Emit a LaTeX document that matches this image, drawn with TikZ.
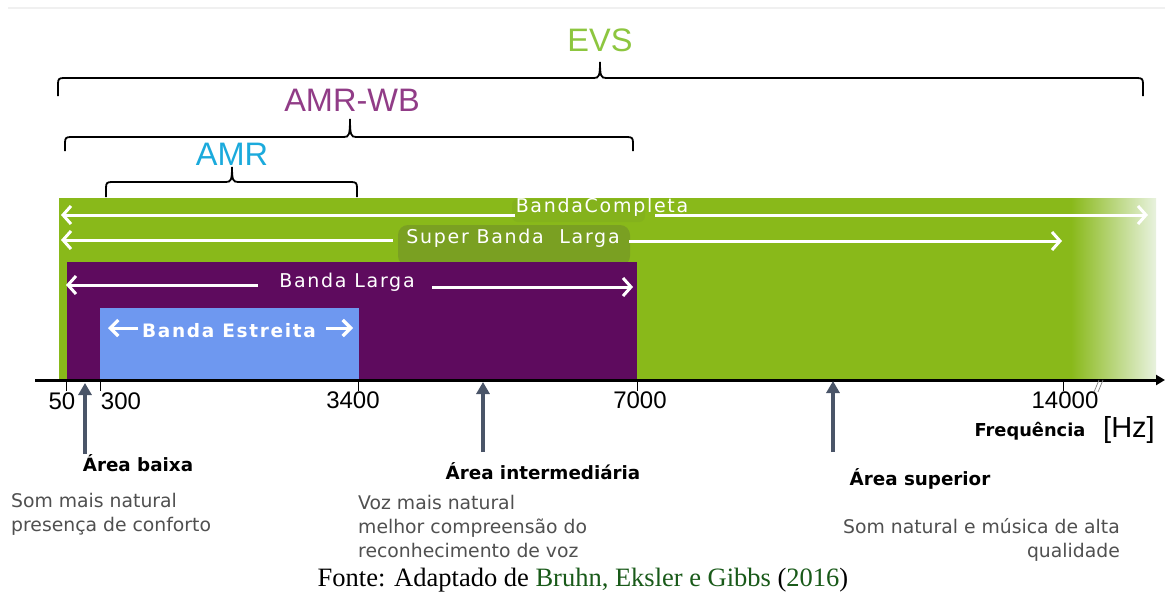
\documentclass[tikz,border=0pt]{standalone}
\usepackage{fontspec}
\setmainfont{DejaVu Sans}
\newfontfamily\arialf{Liberation Sans}
\newfontfamily\timesf{Liberation Serif}
\newfontfamily\spacedf[LetterSpace=9]{DejaVu Sans}
\usetikzlibrary{arrows.meta}
\definecolor{evsgreen}{RGB}{141,198,63}
\definecolor{wbpurple}{RGB}{145,60,135}
\definecolor{amrcyan}{RGB}{27,170,220}
\definecolor{fillgreen}{RGB}{137,185,26}
\definecolor{patchgreen}{RGB}{122,160,34}
\definecolor{fillpurple}{RGB}{94,11,94}
\definecolor{fillblue}{RGB}{110,152,240}
\definecolor{slate}{RGB}{74,85,104}
\definecolor{greytext}{RGB}{80,80,80}
\definecolor{capgreen}{RGB}{25,90,25}
\definecolor{fadeend}{RGB}{232,242,222}
\definecolor{patchgreenb}{RGB}{132,178,28}
\tikzset{
  bracepath/.style={draw=black, line width=1.8pt},
  warr/.style={draw=white, line width=3pt, -{Straight Barb[length=8pt,width=18pt,line width=3pt]}},
  sarr/.style={draw=white, line width=3pt, -{Straight Barb[length=8pt,width=16pt,line width=3.2pt]}},
  uparr/.style={draw=slate, line width=4pt, -{Triangle[length=12pt,width=13pt]}},
  codec/.style={font=\arialf\fontsize{32.5}{34}\selectfont, inner sep=0pt},
  ticklab/.style={font=\arialf\fontsize{24}{26}\selectfont, inner sep=0pt},
  bandlab/.style={font=\spacedf\fontsize{19}{21}\selectfont, text=white, inner sep=0pt},
  arealab/.style={font=\bfseries\fontsize{18.3}{20}\selectfont, text=black, inner sep=0pt},
  desc/.style={font=\fontsize{18.8}{24}\selectfont, text=greytext, inner sep=0pt},
  tickmark/.style={draw=black, line width=0.8pt}
}
\begin{document}
\begin{tikzpicture}[x=1pt,y=-1pt]
\useasboundingbox (0,0) rectangle (1165,594);
\fill[white] (0,0) rectangle (1165,594);
\draw[gray!12, line width=2pt] (8,8) -- (1165,8);

% band rectangles
\fill[fillgreen] (59,198) rectangle (1072,379);
\shade[left color=fillgreen, right color=fadeend] (1071,198) rectangle (1156,379);
\fill[patchgreen, rounded corners=10pt] (398,225) rectangle (630,266);
\fill[patchgreenb, rounded corners=6pt] (512,199) rectangle (645,222);
\fill[fillpurple] (67,262) rectangle (637,379);
\fill[fillblue] (100,308) rectangle (359,379);

% braces
\draw[bracepath] (58,96) -- (58,84) .. controls (58,79) and (59,78) .. (64,78) -- (594,78) .. controls (599,78) and (600,76) .. (600,62) .. controls (600,76) and (601,78) .. (606,78) -- (1137,78) .. controls (1142,78) and (1143,79) .. (1143,84) -- (1143,96);
\draw[bracepath] (65,151) -- (65,143) .. controls (65,138) and (66,137) .. (71,137) -- (344,137) .. controls (349,137) and (350,135) .. (350,119) .. controls (350,135) and (351,137) .. (356,137) -- (627,137) .. controls (632,137) and (633,138) .. (633,143) -- (633,151);
\draw[bracepath] (106,197) -- (106,188) .. controls (106,183) and (107,182) .. (112,182) -- (226,182) .. controls (231,182) and (232,180) .. (232,167) .. controls (232,180) and (233,182) .. (238,182) -- (351,182) .. controls (356,182) and (357,183) .. (357,188) -- (357,197);

% codec labels
\node[codec, text=evsgreen] (evs) at (600,40) {EVS};
\node[codec, text=wbpurple] (amrwb) at (352,100) {AMR-WB};
\node[codec, text=amrcyan] (amr) at (232,154) {AMR};

% band labels and arrows
\node[bandlab] (bc) at (602,207) {BandaCompleta};
\coordinate (bcL) at (61,215);
\coordinate (bcR) at (1148,215);
\draw[warr] (515,215) -- (bcL);
\draw[warr] (655,215) -- (bcR);

\node[bandlab] (sbl) at (513,238) {Super Banda\ \ Larga};
\coordinate (sblL) at (61,240);
\coordinate (sblR) at (1062,241);
\draw[warr] (393,240) -- (sblL);
\draw[warr] (629,241) -- (sblR);

\node[bandlab] (bl) at (347,282) {Banda Larga};
\coordinate (blL) at (66,285);
\coordinate (blR) at (633,287);
\draw[warr] (258,285) -- (blL);
\draw[warr] (432,287) -- (blR);

\node[bandlab, font=\spacedf\bfseries\fontsize{18.5}{20}\selectfont] (be) at (229,331) {Banda Estreita};
\coordinate (beL) at (108,328);
\coordinate (beR) at (353,328);
\draw[sarr] (138,328) -- (beL);
\draw[sarr] (326,328) -- (beR);

% axis
\coordinate (axL) at (35,380);
\coordinate (axR) at (1165,380);
\draw[line width=3pt, -{Triangle[length=9pt,width=10pt]}] (axL) -- (axR);
\foreach \x in {66,100,358,637,1063} \draw[tickmark] (\x,380) -- (\x,391);
\draw[line width=0.7pt, gray] (1094,392) -- (1099,380);
\draw[line width=0.7pt, gray] (1098,392) -- (1103,380);

\node[ticklab] (t50) at (62,401) {50};
\node[ticklab] (t300) at (121,401) {300};
\node[ticklab] (t3400) at (353,400) {3400};
\node[ticklab] (t7000) at (640,400) {7000};
\node[ticklab] (t14000) at (1065,400) {14000};

\node[arealab, font=\bfseries\fontsize{17.8}{20}\selectfont] (freq) at (1030,431) {Frequência};
\node[font=\arialf\fontsize{29}{31}\selectfont, inner sep=0pt] (hz) at (1129,430) {[Hz]};

% area arrows and labels
\node[arealab] (ab) at (138,463) {Área baixa};
\node[arealab] (ai) at (543,471) {Área intermediária};
\node[arealab] (as) at (920,479) {Área superior};
\coordinate (abA) at (85,383);
\coordinate (aiA) at (483,382);
\coordinate (asA) at (833,381);
\draw[uparr] (85,454) -- (abA);
\draw[uparr] (483,452) -- (aiA);
\draw[uparr] (833,452) -- (asA);

\node[desc, align=left, anchor=north west] (d1) at (11,493) {Som mais natural\\presença de conforto};
\node[desc, align=left, anchor=north west] (d2) at (358,495) {Voz mais natural\\melhor compreensão do\\reconhecimento de voz};
\node[desc, align=right, anchor=north east] (d3) at (1120,518) {Som natural e música de alta\\qualidade};

% caption
\node[font=\timesf\fontsize{26.5}{28}\selectfont, inner sep=0pt] (cap) at (583,580) {Fonte: Adaptado de \textcolor{capgreen}{Bruhn, Eksler e Gibbs} (\textcolor{capgreen}{2016})};
\end{tikzpicture}
\end{document}
